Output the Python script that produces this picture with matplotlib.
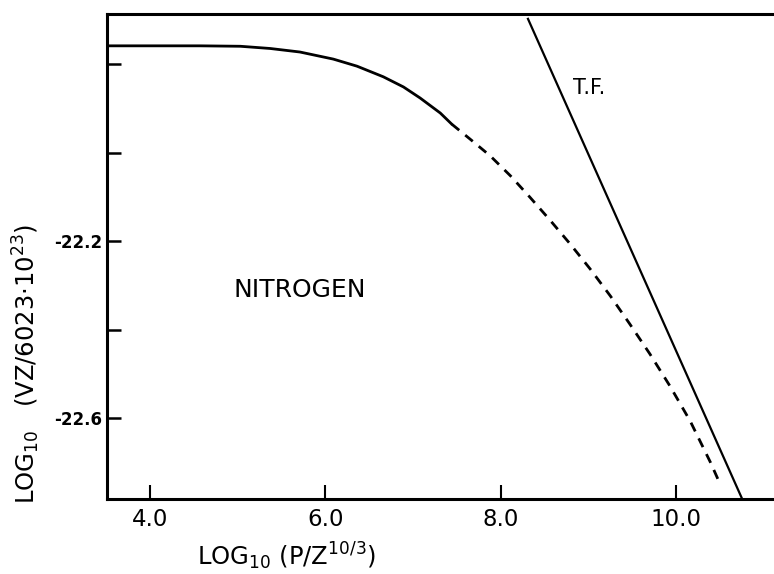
import numpy
import matplotlib.pyplot as plt

plt.rcParams['font.family'] = ['DejaVu Sans']
plt.rcParams['mathtext.default'] = 'regular'

# solid part of the nitrogen curve
solidX = [3.51, 4.57, 5.03, 5.37, 5.71, 6.09, 6.36, 6.66, 6.89, 7.08, 7.31, 7.44]
solidY = [-21.758, -21.758, -21.759, -21.764, -21.772, -21.788, -21.804, -21.828, -21.851,
          -21.876, -21.910, -21.935]

# dashed continuation
dashX = [7.44, 7.65, 7.88, 8.11, 8.33, 8.56, 8.79, 9.02, 9.25, 9.47, 9.70, 9.93, 10.16, 10.39, 10.50]
dashY = [-21.935, -21.969, -22.007, -22.052, -22.100, -22.152, -22.206, -22.263, -22.324,
         -22.387, -22.455, -22.528, -22.607, -22.700, -22.749]

# Thomas-Fermi line
tfX = [8.31, 10.75]
tfY = [-21.697, -22.782]

xTicks = [4.0, 6.0, 8.0, 10.0]
xTickLabels = ["4.0", "6.0", "8.0", "10.0"]
yTicks = [-21.8, -22.0, -22.2, -22.4, -22.6]
yTickLabels = ["", "", "-22.2", "", "-22.6"]

fig = plt.figure(figsize=(7.74, 5.74), dpi=100)
ax = fig.add_axes([107/774, 1-498.5/574, 1-107/774, (498.5-14)/574])

ax.plot(solidX, solidY, color='black', linewidth=2.0, solid_capstyle='round')
ax.plot(dashX, dashY, color='black', linewidth=2.0, dashes=(3.5, 2.8))
ax.plot(tfX, tfY, color='black', linewidth=1.6)

ax.set_xlim(3.51, 4 + (774-150)/87.7)
ax.set_ylim(-22.782, -21.686)

ax.spines['right'].set_visible(False)
for side in ['left', 'top', 'bottom']:
    ax.spines[side].set_linewidth(2.2)

ax.set_xticks(xTicks)
ax.set_xticklabels(xTickLabels, fontsize=16.5)
ax.set_yticks(yTicks)
ax.set_yticklabels(yTickLabels, fontsize=12, fontweight='bold')
ax.tick_params(axis='x', direction='in', length=10, width=1.5, pad=7)
ax.tick_params(axis='y', direction='in', length=10, width=1.8, pad=3.5)

ax.text(6.0 - (326-300)/87.7, -22.2 - (290-241.2)/442, "NITROGEN", fontsize=18,
        ha='center', va='center')
ax.text(4 + (589-150)/87.7, -22.2 - (88-241.2)/442, "T.F.", fontsize=15,
        ha='center', va='center')

fig.text(286/774, 1-556/574, r"LOG$_{10}$ (P/Z$^{10/3}$)", fontsize=17.5,
         ha='center', va='center')
fig.text(26/774, 1-364/574, r"LOG$_{10}$   (VZ/6023$\cdot$10$^{23}$)", fontsize=17.5,
         ha='center', va='center', rotation=90)

fig.savefig("out.png", dpi=100)
